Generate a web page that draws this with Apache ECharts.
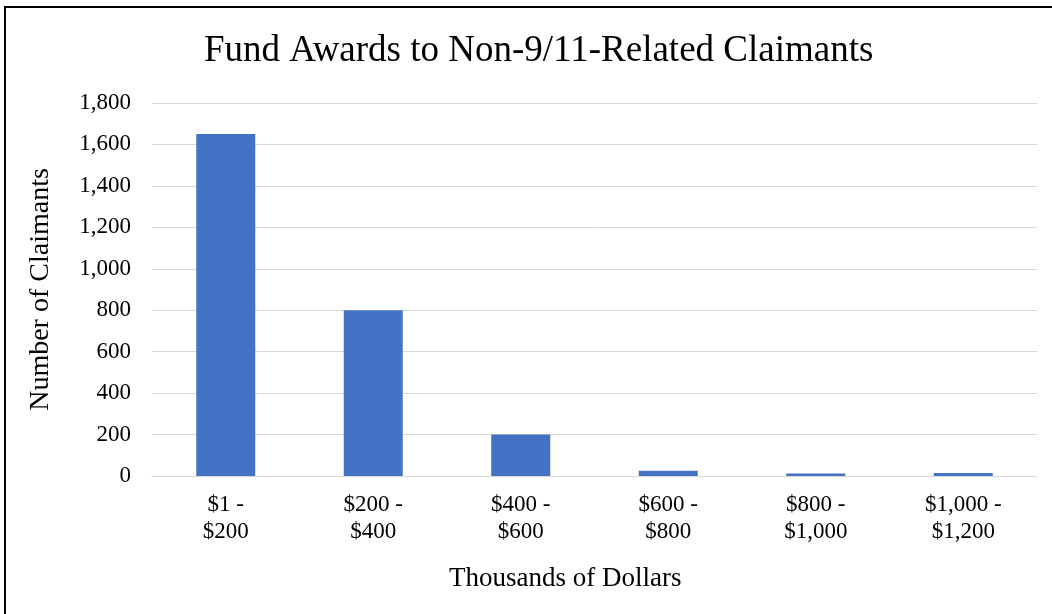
<!DOCTYPE html>
<html>
<head>
    <meta http-equiv="Content-Type" content="text/html; charset=utf-8">
    <title>Fund Awards to Non-9/11-Related Claimants</title>
    <script src="https://cdn.jsdelivr.net/npm/echarts@6/dist/echarts.min.js"></script>
    <style>
        html, body { margin: 0; padding: 0; background: #fff; overflow: hidden; }
        #frame { position: absolute; left: 4px; top: 6px; width: 1200px; height: 800px; border-left: 2px solid #000; border-top: 2px solid #000; }
        #main { position: absolute; left: 0; top: 0; width: 1052px; height: 614px; }
    </style>
</head>
<body>
    <div id="frame"></div>
    <div id="main"></div>
    <script type="text/javascript">
        var categories = ['$1 -\n$200', '$200 -\n$400', '$400 -\n$600', '$600 -\n$800', '$800 -\n$1,000', '$1,000 -\n$1,200'];
        var claimants = [1650, 800, 200, 25, 12, 14];

        var serif = '"Liberation Serif", "DejaVu Serif", serif';
        var chart = echarts.init(document.getElementById('main'));
        var option = {
            animation: false,
            title: {
                text: 'Fund Awards to Non-9/11-Related Claimants',
                left: 199,
                top: 28,
                textStyle: { fontFamily: serif, fontSize: 37, fontWeight: 'normal', color: '#000' }
            },
            graphic: [{
                type: 'text',
                left: 449,
                top: 565,
                style: { text: 'Thousands of Dollars', font: '27px ' + serif, fill: '#000' }
            }],
            grid: { left: 152, right: 15, top: 103, bottom: 138 },
            xAxis: {
                type: 'category',
                data: categories,
                axisLine: { lineStyle: { color: '#d9d9d9' } },
                axisTick: { show: false },
                axisLabel: { fontFamily: serif, fontSize: 23, color: '#000', lineHeight: 27, margin: 15 }
            },
            yAxis: {
                type: 'value',
                min: 0,
                max: 1800,
                interval: 200,
                name: 'Number of Claimants',
                nameLocation: 'middle',
                nameGap: 97,
                nameTextStyle: { fontFamily: serif, fontSize: 28, color: '#000' },
                splitLine: { lineStyle: { color: '#d9d9d9' } },
                axisLabel: {
                    fontFamily: serif, fontSize: 23, color: '#000', margin: 21,
                    formatter: function (v) { return v.toLocaleString('en-US'); }
                }
            },
            series: [{
                type: 'bar',
                data: claimants,
                barWidth: '40%',
                itemStyle: { color: '#4472C4' }
            }]
        };
        chart.setOption(option);
    </script>
</body>
</html>
